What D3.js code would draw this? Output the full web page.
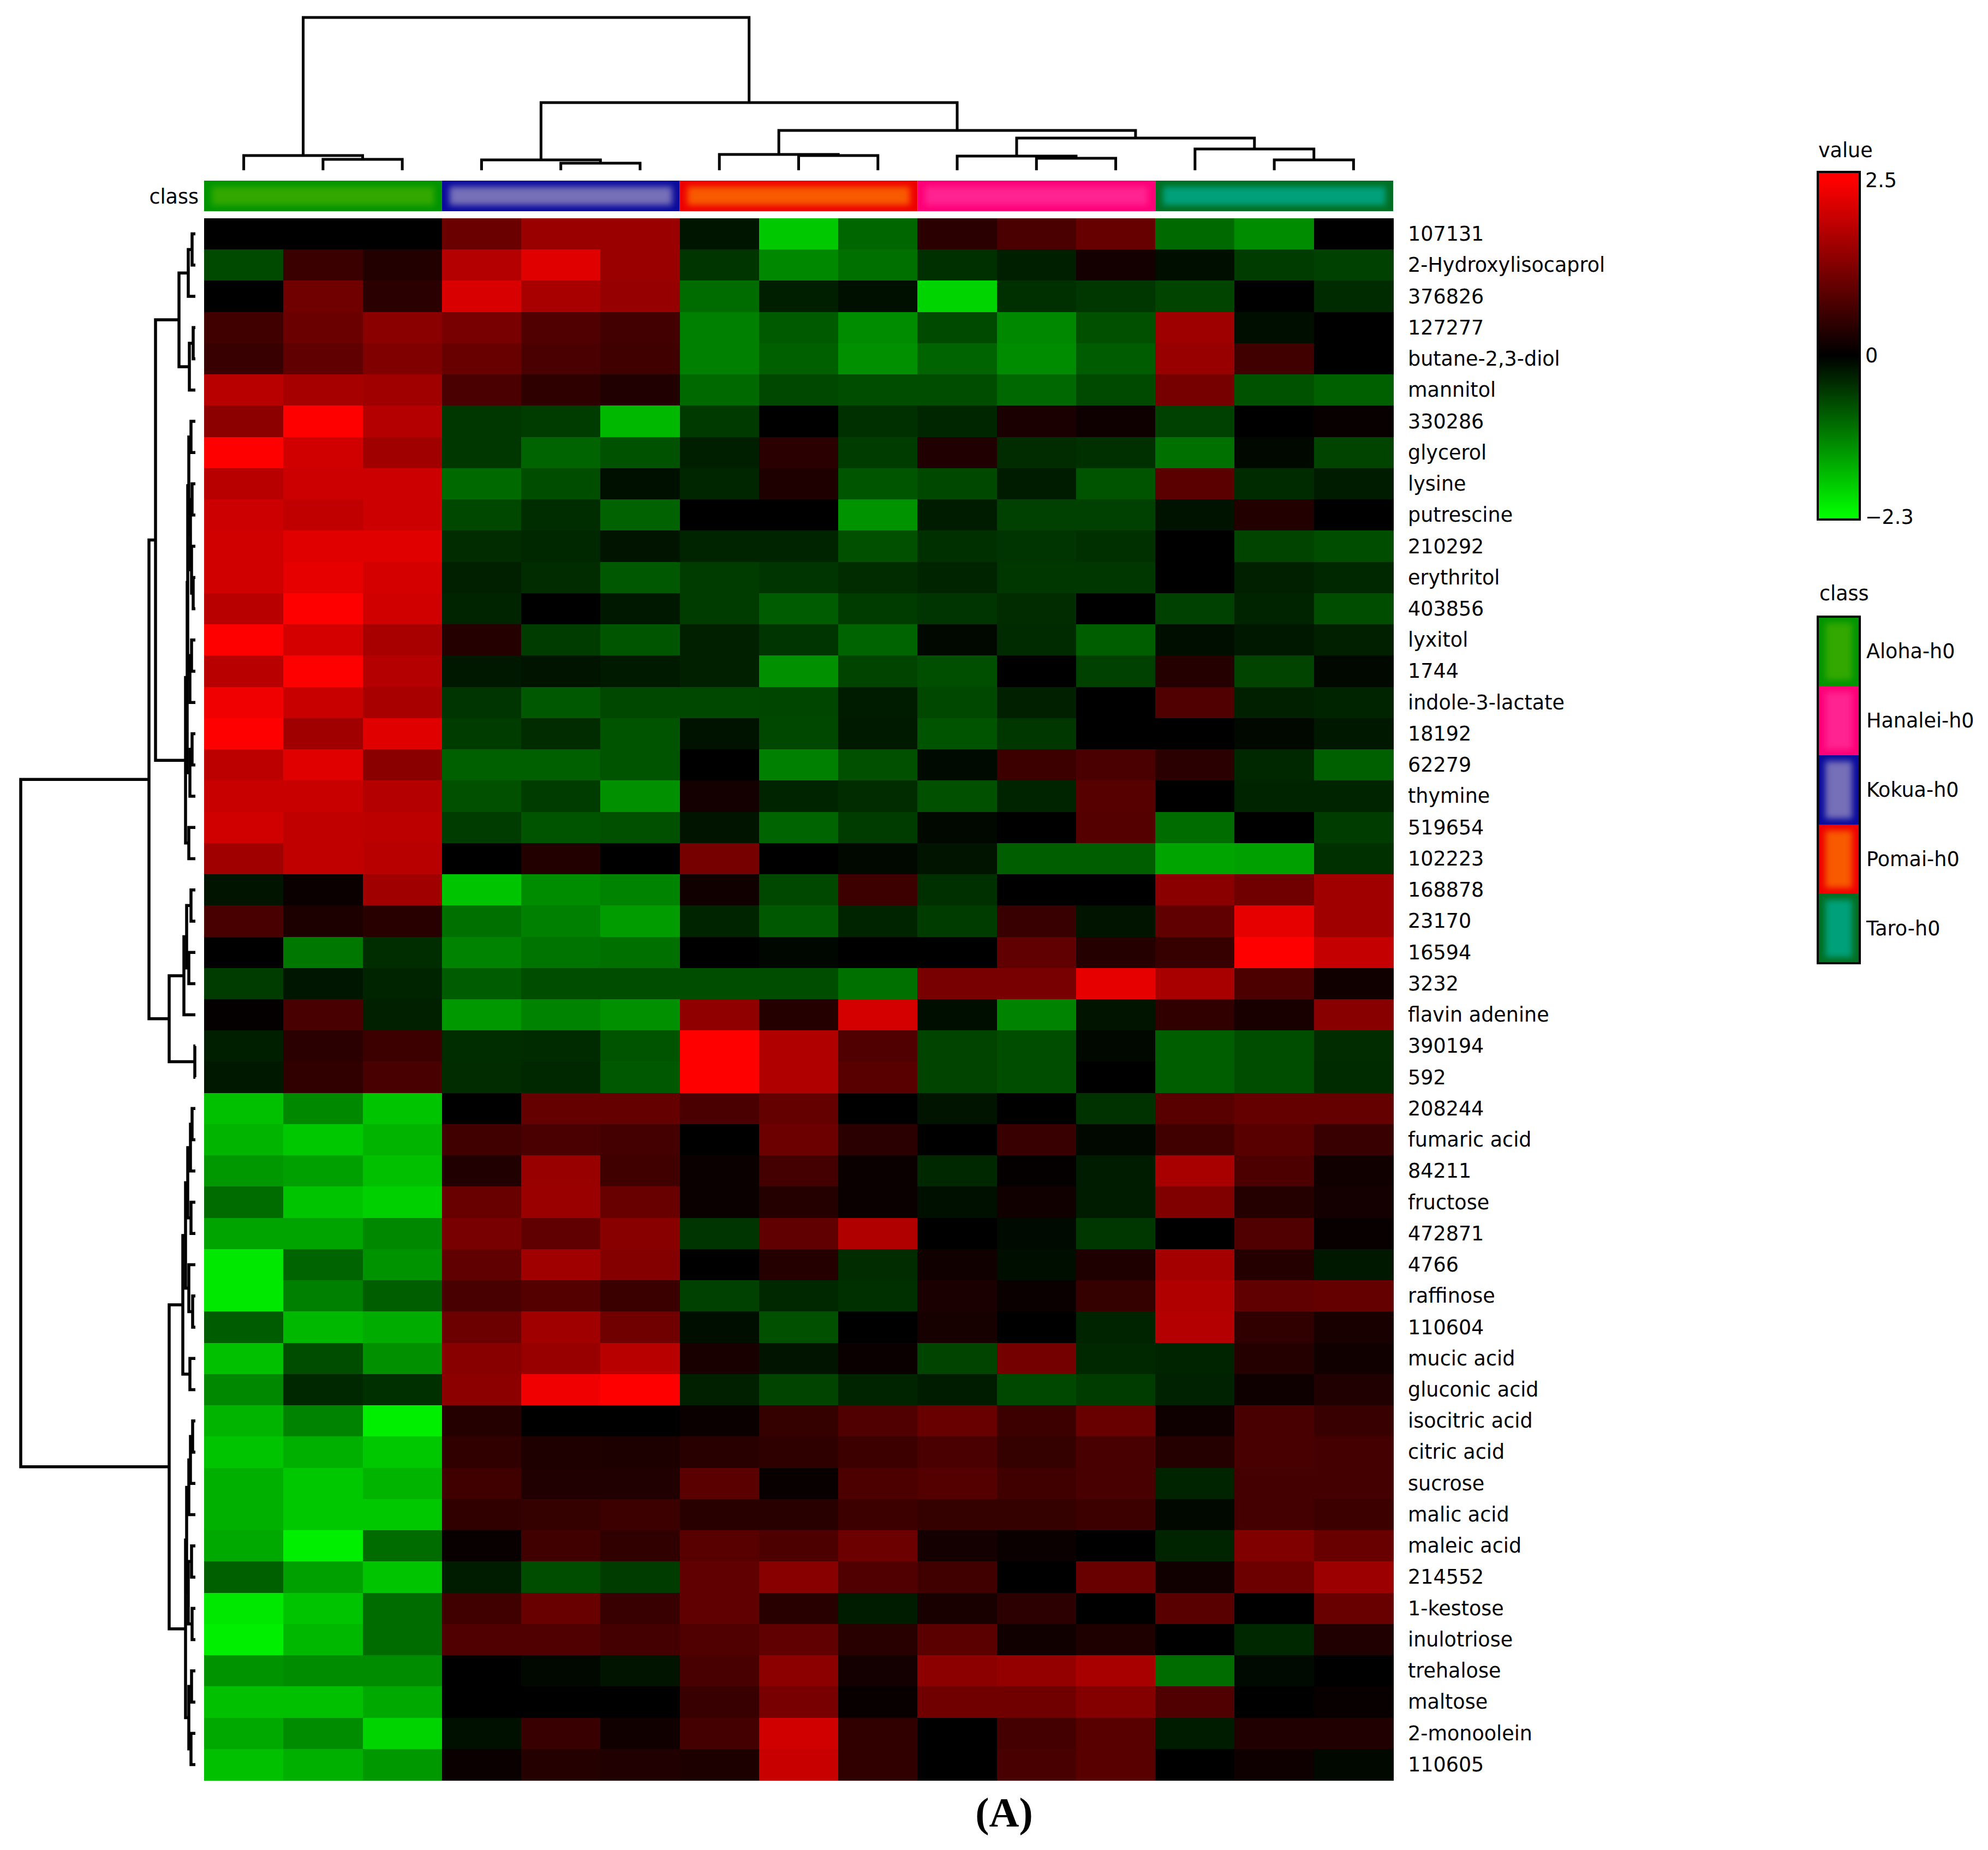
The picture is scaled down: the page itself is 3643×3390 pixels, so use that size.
<!DOCTYPE html>
<html>
<head>
<meta charset="utf-8">
<script src="https://cdn.jsdelivr.net/npm/d3@7"></script>
<style>
  body { margin: 0; background: #fff; }
  svg text { font-family: "DejaVu Sans", Verdana, sans-serif; fill: #000; }
</style>
</head>
<body>
<svg id="chart" width="3643" height="3390"></svg>
<script>
// ---- data ----
const rowLabels = [
  "107131", "2-Hydroxylisocaprol", "376826", "127277", "butane-2,3-diol",
  "mannitol", "330286", "glycerol", "lysine", "putrescine",
  "210292", "erythritol", "403856", "lyxitol", "1744",
  "indole-3-lactate", "18192", "62279", "thymine", "519654",
  "102223", "168878", "23170", "16594", "3232",
  "flavin adenine", "390194", "592", "208244", "fumaric acid",
  "84211", "fructose", "472871", "4766", "raffinose",
  "110604", "mucic acid", "gluconic acid", "isocitric acid", "citric acid",
  "sucrose", "malic acid", "maleic acid", "214552", "1-kestose",
  "inulotriose", "trehalose", "maltose", "2-monoolein", "110605"
];

const classNames = ["Aloha-h0", "Hanalei-h0", "Kokua-h0", "Pomai-h0", "Taro-h0"];
const classFill = ["#30a800", "#ff2190", "#7670b8", "#f85a00", "#00a07a"];
const classEdge = ["#009400", "#ff0078", "#0a0a9c", "#ee0000", "#006e22"];

// column order of the samples (after clustering)
const sampleClass = [
  "Aloha-h0", "Aloha-h0", "Aloha-h0",
  "Kokua-h0", "Kokua-h0", "Kokua-h0",
  "Pomai-h0", "Pomai-h0", "Pomai-h0",
  "Hanalei-h0", "Hanalei-h0", "Hanalei-h0",
  "Taro-h0", "Taro-h0", "Taro-h0"
];

const values = [
  [0, 0, 0, 1.04, 1.52, 1.52, -0.19, -1.8, -0.92, 0.41, 0.73, 1.0, -0.96, -1.26, 0],
  [-0.67, 0.57, 0.33, 1.76, 2.2, 1.52, -0.48, -1.24, -1.01, -0.43, -0.27, 0.2, -0.13, -0.54, -0.58],
  [0, 1.1, 0.41, 2.12, 1.65, 1.47, -0.97, -0.27, -0.14, -1.91, -0.43, -0.5, -0.61, 0, -0.38],
  [0.63, 1.04, 1.35, 1.18, 0.78, 0.65, -1.15, -0.81, -1.26, -0.67, -1.24, -0.72, 1.55, -0.13, 0],
  [0.55, 0.94, 1.25, 1.02, 0.73, 0.63, -1.15, -0.87, -1.3, -0.9, -1.26, -0.83, 1.49, 0.63, 0],
  [1.8, 1.63, 1.57, 0.73, 0.45, 0.31, -0.96, -0.65, -0.69, -0.69, -0.94, -0.67, 1.16, -0.74, -0.87],
  [1.37, 2.5, 1.76, -0.5, -0.54, -1.66, -0.52, 0, -0.43, -0.34, 0.25, 0.14, -0.58, 0, 0.08],
  [2.5, 2.04, 1.57, -0.5, -0.9, -0.74, -0.27, 0.41, -0.54, 0.31, -0.4, -0.43, -1.01, -0.07, -0.61],
  [1.8, 2.0, 2.0, -0.96, -0.69, -0.14, -0.34, 0.29, -0.78, -0.65, -0.25, -0.76, 0.88, -0.38, -0.25],
  [2.0, 1.88, 2.0, -0.65, -0.41, -0.88, 0, 0, -1.33, -0.25, -0.58, -0.58, -0.16, 0.33, 0],
  [2.04, 2.2, 2.2, -0.4, -0.36, -0.18, -0.32, -0.32, -0.72, -0.43, -0.47, -0.43, 0, -0.61, -0.69],
  [2.04, 2.25, 2.08, -0.29, -0.4, -0.79, -0.54, -0.47, -0.4, -0.32, -0.5, -0.5, 0, -0.29, -0.36],
  [1.8, 2.5, 2.04, -0.32, 0, -0.22, -0.54, -0.83, -0.54, -0.47, -0.4, 0, -0.58, -0.32, -0.69],
  [2.5, 2.08, 1.65, 0.35, -0.54, -0.78, -0.29, -0.47, -0.9, -0.07, -0.38, -0.85, -0.13, -0.22, -0.29],
  [1.8, 2.5, 1.76, -0.22, -0.18, -0.23, -0.29, -1.3, -0.61, -0.7, 0, -0.58, 0.35, -0.61, -0.07],
  [2.35, 1.96, 1.65, -0.47, -0.79, -0.65, -0.65, -0.63, -0.25, -0.65, -0.29, 0, 0.78, -0.29, -0.32],
  [2.5, 1.57, 2.2, -0.54, -0.4, -0.76, -0.16, -0.65, -0.23, -0.76, -0.5, 0, 0, -0.07, -0.22],
  [1.84, 2.2, 1.35, -0.87, -0.87, -0.76, 0, -1.15, -0.72, -0.09, 0.59, 0.73, 0.41, -0.36, -0.87],
  [1.96, 1.96, 1.76, -0.72, -0.54, -1.3, 0.2, -0.32, -0.4, -0.72, -0.32, 0.84, 0, -0.32, -0.32],
  [2.04, 1.88, 1.84, -0.54, -0.76, -0.72, -0.18, -0.9, -0.54, -0.07, 0, 0.82, -0.97, 0, -0.54],
  [1.57, 1.88, 1.8, 0, 0.33, 0, 1.16, 0, -0.07, -0.18, -0.85, -0.85, -1.48, -1.44, -0.43],
  [-0.18, 0.1, 1.57, -1.77, -1.26, -1.19, 0.16, -0.65, 0.59, -0.43, 0, 0, 1.35, 1.1, 1.57],
  [0.71, 0.27, 0.39, -1.01, -1.15, -1.41, -0.32, -0.79, -0.32, -0.54, 0.55, -0.18, 0.94, 2.25, 1.57],
  [0, -1.08, -0.41, -1.19, -1.05, -1.01, 0, -0.05, 0, 0, 0.94, 0.35, 0.53, 2.5, 1.92],
  [-0.54, -0.2, -0.32, -0.83, -0.69, -0.69, -0.69, -0.69, -1.01, 1.18, 1.18, 2.25, 1.65, 0.75, 0.16],
  [0.04, 0.71, -0.29, -1.37, -1.19, -1.3, 1.41, 0.35, 2.08, -0.13, -1.19, -0.18, 0.47, 0.24, 1.33],
  [-0.27, 0.41, 0.59, -0.41, -0.38, -0.76, 2.5, 1.73, 0.78, -0.61, -0.69, -0.07, -0.85, -0.69, -0.4],
  [-0.22, 0.47, 0.71, -0.4, -0.36, -0.79, 2.5, 1.73, 0.86, -0.61, -0.69, 0, -0.85, -0.69, -0.38],
  [-1.73, -1.23, -1.77, 0, 0.98, 0.98, 0.73, 0.98, 0, -0.18, 0, -0.45, 0.86, 0.98, 0.98],
  [-1.62, -1.8, -1.62, 0.63, 0.73, 0.67, 0, 1.06, 0.41, 0, 0.55, -0.07, 0.63, 0.86, 0.55],
  [-1.37, -1.44, -1.73, 0.31, 1.49, 0.63, 0.1, 0.67, 0.1, -0.36, 0.04, -0.25, 1.65, 0.75, 0.16],
  [-0.97, -1.77, -1.88, 1.02, 1.51, 1.02, 0.1, 0.35, 0.1, -0.14, 0.16, -0.25, 1.25, 0.35, 0.2],
  [-1.48, -1.48, -1.23, 1.18, 0.94, 1.33, -0.47, 0.94, 1.73, 0, -0.09, -0.5, 0, 0.78, 0.08],
  [-2.09, -0.9, -1.33, 0.94, 1.57, 1.29, 0, 0.35, -0.4, 0.16, -0.13, 0.29, 1.61, 0.35, -0.22],
  [-2.09, -1.15, -0.85, 0.71, 0.82, 0.57, -0.58, -0.36, -0.43, 0.25, 0.1, 0.51, 1.73, 0.94, 0.98],
  [-0.83, -1.66, -1.55, 1.06, 1.57, 1.1, -0.13, -0.72, 0, 0.22, 0, -0.32, 1.76, 0.47, 0.24],
  [-1.73, -0.69, -1.3, 1.33, 1.49, 1.8, 0.24, -0.18, 0.1, -0.61, 1.14, -0.36, -0.32, 0.35, 0.16],
  [-1.23, -0.36, -0.43, 1.37, 2.35, 2.5, -0.29, -0.61, -0.32, -0.25, -0.65, -0.54, -0.31, 0.14, 0.31],
  [-1.62, -1.19, -2.16, 0.35, 0, 0, 0.1, 0.51, 0.78, 1.02, 0.59, 1.02, 0.14, 0.71, 0.55],
  [-1.77, -1.59, -1.8, 0.47, 0.29, 0.27, 0.39, 0.45, 0.59, 0.73, 0.51, 0.71, 0.35, 0.71, 0.67],
  [-1.59, -1.8, -1.62, 0.63, 0.31, 0.31, 0.88, 0.08, 0.75, 0.82, 0.63, 0.71, -0.32, 0.67, 0.67],
  [-1.59, -1.8, -1.8, 0.47, 0.51, 0.59, 0.39, 0.39, 0.59, 0.51, 0.51, 0.59, -0.07, 0.67, 0.59],
  [-1.52, -2.16, -0.97, 0.08, 0.63, 0.47, 0.86, 0.75, 1.06, 0.2, 0.1, 0, -0.32, 1.25, 1.02],
  [-0.87, -1.44, -1.77, -0.25, -0.69, -0.54, 0.94, 1.33, 0.78, 0.63, 0, 1.02, 0.16, 1.06, 1.53],
  [-2.09, -1.77, -0.97, 0.63, 1.02, 0.55, 0.94, 0.39, -0.25, 0.24, 0.43, 0, 0.86, 0, 1.02],
  [-2.16, -1.66, -0.97, 0.78, 0.78, 0.67, 0.78, 0.94, 0.39, 0.88, 0.16, 0.29, 0, -0.36, 0.31],
  [-1.33, -1.26, -1.26, 0, -0.07, -0.18, 0.71, 1.37, 0.2, 1.37, 1.45, 1.65, -0.97, -0.09, 0],
  [-1.73, -1.73, -1.52, 0, 0, 0, 0.55, 1.18, 0.08, 1.1, 1.1, 1.29, 0.78, 0, 0.08],
  [-1.52, -1.26, -1.91, -0.14, 0.55, 0.16, 0.67, 2.04, 0.47, 0, 0.67, 0.86, -0.25, 0.31, 0.31],
  [-1.73, -1.59, -1.37, 0.1, 0.35, 0.31, 0.27, 1.96, 0.47, 0, 0.71, 0.86, 0, 0.14, -0.07]
];

const valueTicks = [2.5, 0, -2.3];
const valueTickText = ["2.5", "0", "\u22122.3"];

// dendrograms: [height, left, right], a plain number is a leaf index
const colTree = [280,
  [27, 0, [20, 1, 2]],
  [124,
    [19, 3, [13, 4, 5]],
    [73,
      [29, 6, [27, 7, 8]],
      [59, [26, 9, [22, 10, 11]], [39, 12, [19, 13, 14]]]]]];

const rowsTopA1 = [30, [13, [6, 0, 1], 2], [11, [4, 3, 4], 5]];
const rowsTopA2 = [18,
  [15,
    [14, [12, [8, 6, 7], [9, [6, 8, 9], [7, 10, [4, 11, 12]]]], [10, [7, 13, 14], 15]],
    [10, [6, 16, 17], 18]],
  [12, 19, 20]];
const rowsTopB = [48, [21, [16, [8, 21, 22], [12, 23, 24]], 25], [1, 26, 27]];
const rowsBottomC = [23,
  [18, [14, [9, [6, 28, 29], 30], [8, 31, 32]], [12, 33, [5, 34, 35]]],
  [10, 36, 37]];
const rowsBottomD = [18,
  [16, [12, [9, [5, 38, 39], 40], 41], [13, [7, 42, 43], [6, 44, 45]]],
  [12, [7, 46, 47], [8, 48, 49]]];
const rowTree = [320, [85, [73, rowsTopA1, rowsTopA2], rowsTopB], [48, rowsBottomC, rowsBottomD]];

// ---- drawing ----
const svg = d3.select("#chart");
svg.append("rect").attr("width", 3643).attr("height", 3390).attr("fill", "#fff");

const x = d3.scaleBand().domain(d3.range(sampleClass.length)).range([374, 2553]);
const y = d3.scaleBand().domain(d3.range(rowLabels.length)).range([400, 3262]);
const color = d3.scaleLinear()
  .domain([-2.3, 0, 2.5])
  .range(["#00ff00", "#000000", "#ff0000"])
  .clamp(true);

const defs = svg.append("defs");
defs.append("filter").attr("id", "soft")
  .attr("x", "-20%").attr("y", "-40%").attr("width", "140%").attr("height", "180%")
  .append("feGaussianBlur").attr("stdDeviation", 6);

// heatmap cells
const cells = [];
values.forEach((row, r) => row.forEach((v, c) => cells.push({ r, c, v })));
svg.append("g")
  .selectAll("rect")
  .data(cells)
  .join("rect")
  .attr("x", (d) => x(d.c))
  .attr("y", (d) => y(d.r))
  .attr("width", x.bandwidth() + 0.6)
  .attr("height", y.bandwidth() + 0.6)
  .attr("fill", (d) => color(d.v))
  .attr("shape-rendering", "crispEdges");

// row labels
svg.append("g")
  .selectAll("text")
  .data(rowLabels)
  .join("text")
  .attr("x", 2580)
  .attr("y", (d, i) => y(i) + y.bandwidth() / 2)
  .attr("dominant-baseline", "central")
  .attr("font-size", 36.5)
  .text((d) => d);

// class bar above the heatmap
const runs = [];
sampleClass.forEach((cls, i) => {
  const last = runs[runs.length - 1];
  if (last && last.cls === cls) last.end = i;
  else runs.push({ cls, start: i, end: i });
});

function classBlock(g, x0, y0, w, h, cls) {
  const k = classNames.indexOf(cls);
  g.append("rect").attr("x", x0).attr("y", y0).attr("width", w).attr("height", h)
    .attr("fill", classEdge[k]);
  g.append("rect").attr("x", x0 + 14).attr("y", y0 + 11).attr("width", w - 28).attr("height", h - 22)
    .attr("fill", classFill[k]).attr("filter", "url(#soft)");
}

const classBar = svg.append("g");
runs.forEach((run) => {
  classBlock(classBar, x(run.start), 331, x(run.end) + x.bandwidth() - x(run.start), 56, run.cls);
});
svg.append("text")
  .attr("x", 364).attr("y", 360)
  .attr("text-anchor", "end")
  .attr("dominant-baseline", "central")
  .attr("font-size", 36.5)
  .text("class");

// dendrograms
function toNode(t) {
  return Array.isArray(t)
    ? { h: t[0], children: [toNode(t[1]), toNode(t[2])] }
    : { h: 0, leaf: t };
}

function drawDendro(tree, leafPos, hScale, vertical, width) {
  const root = d3.hierarchy(toNode(tree));
  root.eachAfter((d) => {
    d.pos = d.children ? d3.mean(d.children, (c) => c.pos) : leafPos(d.data.leaf);
  });
  const paths = [];
  root.each((d) => {
    if (!d.children) return;
    const [a, b] = d.children;
    const H = hScale(d.data.h);
    if (vertical) {
      paths.push(`M${a.pos},${hScale(a.data.h)}V${H}H${b.pos}V${hScale(b.data.h)}`);
    } else {
      paths.push(`M${hScale(a.data.h)},${a.pos}H${H}V${b.pos}H${hScale(b.data.h)}`);
    }
  });
  return svg.append("g")
    .selectAll("path")
    .data(paths)
    .join("path")
    .attr("d", (d) => d)
    .attr("fill", "none")
    .attr("stroke", "#000")
    .attr("stroke-width", width);
}

const colH = d3.scaleLinear().domain([0, 280]).range([312, 32]);
drawDendro(colTree, (i) => x(i) + x.bandwidth() / 2, colH, true, 5);

const rowH = d3.scaleLinear().domain([0, 320]).range([358, 38]);
drawDendro(rowTree, (i) => y(i) + y.bandwidth() / 2, rowH, false, 5.5);

// value legend
const legY = d3.scaleLinear().domain([2.5, -2.3]).range([330, 947]);
const barTop = 315, barBottom = 952;
const grad = defs.append("linearGradient").attr("id", "valueGrad")
  .attr("x1", 0).attr("y1", 0).attr("x2", 0).attr("y2", 1);
grad.append("stop").attr("offset", 0).attr("stop-color", color(2.5));
[2.5, 1.2, 0, -1.1, -2.3].forEach((v) => {
  grad.append("stop")
    .attr("offset", (legY(v) - barTop) / (barBottom - barTop))
    .attr("stop-color", color(v));
});
grad.append("stop").attr("offset", 1).attr("stop-color", color(-2.3));

svg.append("text").attr("x", 3332).attr("y", 288).attr("font-size", 36.5).text("value");
svg.append("rect")
  .attr("x", 3331).attr("y", barTop).attr("width", 77).attr("height", barBottom - barTop)
  .attr("fill", "url(#valueGrad)").attr("stroke", "#000").attr("stroke-width", 4);
svg.append("g")
  .selectAll("text")
  .data(valueTicks)
  .join("text")
  .attr("x", 3418)
  .attr("y", (d) => legY(d))
  .attr("dominant-baseline", "central")
  .attr("font-size", 36.5)
  .text((d, i) => valueTickText[i]);

// class legend
svg.append("text").attr("x", 3334).attr("y", 1100).attr("font-size", 36.5).text("class");
const legRow = d3.scaleBand().domain(classNames).range([1130, 1765]);
const classLegend = svg.append("g");
classNames.forEach((cls) => {
  classBlock(classLegend, 3331, legRow(cls), 77, legRow.bandwidth(), cls);
});
classLegend.append("rect")
  .attr("x", 3331).attr("y", 1130).attr("width", 77).attr("height", 635)
  .attr("fill", "none").attr("stroke", "#000").attr("stroke-width", 4);
classLegend.selectAll("text")
  .data(classNames)
  .join("text")
  .attr("x", 3420)
  .attr("y", (d) => legRow(d) + legRow.bandwidth() / 2)
  .attr("dominant-baseline", "central")
  .attr("font-size", 36.5)
  .text((d) => d);

// panel letter
svg.append("text")
  .attr("x", 1840).attr("y", 3347)
  .attr("text-anchor", "middle")
  .attr("font-weight", "bold")
  .attr("font-size", 76)
  .style("font-family", "'Liberation Serif', 'Times New Roman', serif")
  .text("(A)");
</script>
</body>
</html>
